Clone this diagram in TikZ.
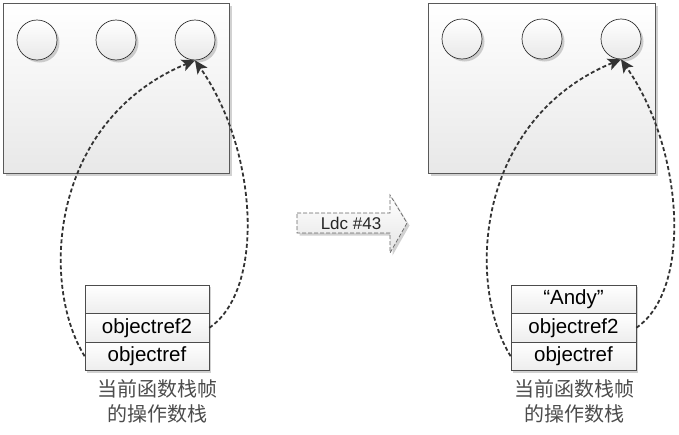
\documentclass[tikz,border=0pt]{standalone}
\usepackage{fontspec}
\setmainfont{Liberation Sans}
\newfontfamily\cjk{Noto Sans CJK SC}
\usetikzlibrary{shadows,arrows.meta}
\begin{document}
\begin{tikzpicture}[x=1pt,y=-1pt,
  shd/.style={drop shadow={shadow xshift=2.5pt,shadow yshift=-2.5pt,opacity=0.3,fill=black!60}},
  panel/.style={rectangle,draw=black!65,line width=0.8pt,top color=white,bottom color=black!9,shd,minimum height=170pt,inner sep=0pt},
  ball/.style={circle,draw=black!80,line width=0.7pt,top color=white,bottom color=black!9,shd,minimum size=40pt,inner sep=0pt},
  cell/.style={rectangle,draw=black!70,line width=0.7pt,top color=white,bottom color=black!7,
    drop shadow={shadow xshift=2pt,shadow yshift=-2pt,opacity=0.3,fill=black!60},
    minimum height=28.5pt,inner sep=0pt,font=\fontsize{20.5}{23}\selectfont},
  link/.style={draw=black!80,line width=1.8pt,dash pattern=on 4pt off 2.5pt,
    -{Stealth[length=13pt,width=12pt,inset=3pt,fill=black!80]}},
  caption/.style={align=center,font=\cjk\fontsize{20}{25}\selectfont,text=black!70},
  bigarrow/.style={draw=black!60,line width=0.7pt,dash pattern=on 4pt off 2pt,top color=white,bottom color=black!10,shd}
]
\useasboundingbox (0,0) rectangle (679,434);

% ---------- left panel ----------
\node[panel,minimum width=226pt] (boxL) at (116,88) {};
\node[ball] (cL1) at (37,40) {};
\node[ball] (cL2) at (116,40) {};
\node[ball] (cL3) at (195,40) {};
\node[cell,minimum width=124pt] (sL1) at (147,299.25) {};
\node[cell,minimum width=124pt] (sL2) at (147,327.75) {objectref2};
\node[cell,minimum width=124pt] (sL3) at (147,356.25) {objectref};
\node[caption] (capL) at (157,401.5) {当前函数栈帧\\的操作数栈};
\draw[link] (sL3.west) .. controls +(-45,-73) and +(-145,60) .. (cL3.south);
\draw[link] (sL2.east) .. controls +(56,-38) and +(63,90) .. (cL3.south);

% ---------- transition arrow ----------
\draw[bigarrow] (297,213) -- (390,213) -- (390,195) -- (407,223) -- (390,253) -- (390,233) -- (297,233) -- cycle;
\node[font=\fontsize{17}{19}\selectfont,text=black!85] (ldc) at (351,223) {Ldc \#43};

% ---------- right panel ----------
\node[panel,minimum width=227pt] (boxR) at (541.5,88) {};
\node[ball] (cR1) at (462,39) {};
\node[ball] (cR2) at (542,39) {};
\node[ball] (cR3) at (621,39) {};
\node[cell,minimum width=125pt] (sR1) at (573.5,299.25) {“Andy”};
\node[cell,minimum width=125pt] (sR2) at (573.5,327.75) {objectref2};
\node[cell,minimum width=125pt] (sR3) at (573.5,356.25) {objectref};
\node[caption] (capR) at (574,401.5) {当前函数栈帧\\的操作数栈};
\draw[link] (sR3.west) .. controls +(-45,-73) and +(-145,60) .. (cR3.south);
\draw[link] (sR2.east) .. controls +(56,-38) and +(63,90) .. (cR3.south);
\end{tikzpicture}
\end{document}
